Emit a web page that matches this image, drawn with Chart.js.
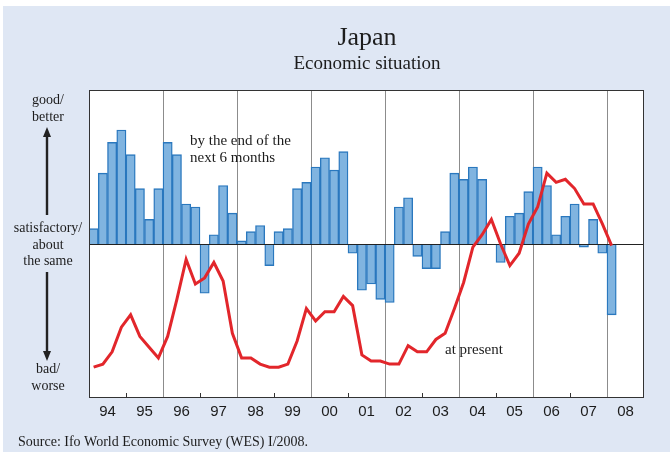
<!DOCTYPE html>
<html>
<head>
<meta charset="utf-8">
<script src="https://cdn.jsdelivr.net/npm/chart.js@4/dist/chart.umd.min.js"></script>
<style>
  html, body { margin: 0; padding: 0; background: #ffffff; }
  #wrap { width: 670px; height: 452px; position: relative; }
</style>
</head>
<body>
<div id="wrap"><canvas id="c" width="670" height="452"></canvas></div>
<script>
// Survey years shown on the axis (quarterly observations, 1994 Q1 – 2008 Q1)
const years = ['94', '95', '96', '97', '98', '99', '00', '01', '02', '03', '04', '05', '06', '07', '08'];

// Economic expectations: by the end of the next 6 months (balance, 94 Q1 … 08 Q1)
const expectations = [
  10, 46, 66, 74,    // 94
  58, 36, 16, 36,    // 95
  66, 58, 26, 24,    // 96
  -32, 6, 38, 20,    // 97
  2, 8, 12, -14,     // 98
  8, 10, 36, 40,     // 99
  50, 56, 48, 60,    // 00
  -6, -30, -26, -36, // 01
  -38, 24, 30, -8,   // 02
  -16, -16, 8, 46,   // 03
  42, 50, 42, 0,     // 04
  -12, 18, 20, 34,   // 05
  50, 38, 6, 18,     // 06
  26, -2, 16, -6,    // 07
  -46                // 08
];

// Economic situation at present (same scale, 94 Q1 … 08 Q1)
const present = [
  -80, -78, -70, -54,  // 94
  -46, -60, -67, -74,  // 95
  -60, -36, -10, -26,  // 96
  -22, -12, -24, -58,  // 97
  -74, -74, -78, -80,  // 98
  -80, -78, -63, -42,  // 99
  -50, -44, -44, -34,  // 00
  -40, -72, -76, -76,  // 01
  -78, -78, -66, -70,  // 02
  -70, -62, -58, -42,  // 03
  -25, -2, 6, 16,      // 04
  0, -14, -6, 13,      // 05
  24, 46, 40, 42,      // 06
  36, 26, 26, 13,      // 07
  -1                   // 08
];

// Quarter categories spanning the full axis range (15 years x 4 quarters)
const quarters = [];
years.forEach(y => { for (let q = 1; q <= 4; q++) quarters.push(y + ' Q' + q); });

const SERIF = '"Liberation Serif", "Times New Roman", serif';
const SANS = '"Liberation Sans", Arial, sans-serif';
const INK = '#1c1c1c';

function arrow(ctx, x, yFrom, yTo) {
  const dir = Math.sign(yTo - yFrom);
  ctx.save();
  ctx.strokeStyle = '#222';
  ctx.fillStyle = '#222';
  ctx.lineWidth = 2.4;
  ctx.beginPath();
  ctx.moveTo(x, yFrom);
  ctx.lineTo(x, yTo - dir * 7);
  ctx.stroke();
  ctx.beginPath();
  ctx.moveTo(x, yTo);
  ctx.lineTo(x - 4, yTo - dir * 10);
  ctx.lineTo(x + 4, yTo - dir * 10);
  ctx.closePath();
  ctx.fill();
  ctx.restore();
}

const framePlugin = {
  id: 'frame',
  beforeDraw(chart) {
    const { ctx, chartArea: a } = chart;
    ctx.save();
    ctx.fillStyle = '#ffffff';
    ctx.fillRect(0, 0, chart.width, chart.height);
    ctx.fillStyle = '#dfe7f4';
    ctx.fillRect(3, 6, chart.width - 3, chart.height - 6);
    ctx.fillStyle = '#ffffff';
    ctx.fillRect(a.left, a.top, a.right - a.left, a.bottom - a.top);
    ctx.restore();
  },
  beforeDatasetsDraw(chart) {
    const { ctx, chartArea: a } = chart;
    const ys = chart.scales.years;
    ctx.save();
    for (let k = 1; k < years.length; k++) {
      const x = Math.round(ys.getPixelForValue(k)) + 0.5;
      ctx.beginPath();
      if (k % 2 === 0) {
        ctx.strokeStyle = '#8c8c8c';
        ctx.lineWidth = 1;
        ctx.moveTo(x, a.top);
        ctx.lineTo(x, a.bottom);
      } else {
        ctx.strokeStyle = '#333';
        ctx.lineWidth = 1;
        ctx.moveTo(x, a.bottom);
        ctx.lineTo(x, a.bottom - 5);
      }
      ctx.stroke();
    }
    ctx.restore();
  },
  afterDatasetDraw(chart, args) {
    // zero ("satisfactory") line sits above the bars but below the red line
    if (chart.data.datasets[args.index].type !== 'bar') return;
    const { ctx, chartArea: a } = chart;
    const y0 = Math.round(chart.scales.y.getPixelForValue(0)) + 0.5;
    ctx.save();
    ctx.strokeStyle = '#222';
    ctx.lineWidth = 1.2;
    ctx.beginPath();
    ctx.moveTo(a.left, y0);
    ctx.lineTo(a.right, y0);
    ctx.stroke();
    ctx.restore();
  },
  afterDraw(chart) {
    const { ctx, chartArea: a } = chart;
    ctx.save();
    // plot frame
    ctx.strokeStyle = '#333';
    ctx.lineWidth = 1;
    ctx.strokeRect(Math.round(a.left) + 0.5, Math.round(a.top) + 0.5,
                   Math.round(a.right - a.left) - 1, Math.round(a.bottom - a.top) - 1);

    ctx.fillStyle = INK;
    ctx.textBaseline = 'alphabetic';

    // titles
    ctx.textAlign = 'center';
    ctx.font = '26px ' + SERIF;
    ctx.fillText('Japan', 367, 45);
    ctx.font = '19px ' + SERIF;
    ctx.fillText('Economic situation', 367, 69);

    // direction labels on the left
    ctx.font = '14px ' + SERIF;
    const cx = 48;
    ctx.fillText('good/', cx, 104);
    ctx.fillText('better', cx, 121);
    ctx.fillText('satisfactory/', cx, 232);
    ctx.fillText('about', cx, 249);
    ctx.fillText('the same', cx, 265);
    ctx.fillText('bad/', cx, 373);
    ctx.fillText('worse', cx, 390);
    arrow(ctx, cx - 1, 215, 127);
    arrow(ctx, cx - 1, 272, 361);

    // series annotations
    ctx.textAlign = 'left';
    ctx.font = '15px ' + SERIF;
    ctx.fillText('by the end of the', 190, 145);
    ctx.fillText('next 6 months', 190, 162);
    ctx.fillText('at present', 445, 354);

    // source note
    ctx.font = '14px ' + SERIF;
    ctx.fillText('Source: Ifo World Economic Survey (WES) I/2008.', 18, 446);
    ctx.restore();
  }
};

new Chart(document.getElementById('c'), {
  data: {
    labels: quarters,
    datasets: [
      {
        type: 'line',
        label: 'at present',
        data: present,
        borderColor: '#e2262b',
        borderWidth: 3,
        pointRadius: 0,
        tension: 0,
        fill: false,
        order: 1
      },
      {
        type: 'bar',
        label: 'by the end of the next 6 months',
        data: expectations,
        backgroundColor: '#80b4e0',
        borderColor: '#2a78be',
        borderWidth: 1.4,
        categoryPercentage: 1,
        barPercentage: 1,
        order: 2
      }
    ]
  },
  options: {
    responsive: false,
    devicePixelRatio: 1,
    animation: false,
    layout: { padding: { left: 89, right: 26, top: 90, bottom: 0 } },
    plugins: { legend: { display: false }, tooltip: { enabled: false }, title: { display: false } },
    scales: {
      x: { type: 'category', display: false, offset: true },
      y: { type: 'linear', display: false, min: -100, max: 100 },
      years: {
        type: 'linear',
        axis: 'x',
        position: 'bottom',
        min: 0,
        max: years.length,
        grid: { display: false, drawTicks: false },
        border: { display: false },
        afterBuildTicks(scale) {
          scale.ticks = years.map((y, i) => ({ value: i + 0.5 }));
        },
        afterFit(scale) { scale.height = 54; },
        ticks: {
          autoSkip: false,
          maxRotation: 0,
          padding: 5,
          color: INK,
          font: { family: SANS, size: 15 },
          callback: (v, i) => years[i]
        }
      }
    }
  },
  plugins: [framePlugin]
});
</script>
</body>
</html>
